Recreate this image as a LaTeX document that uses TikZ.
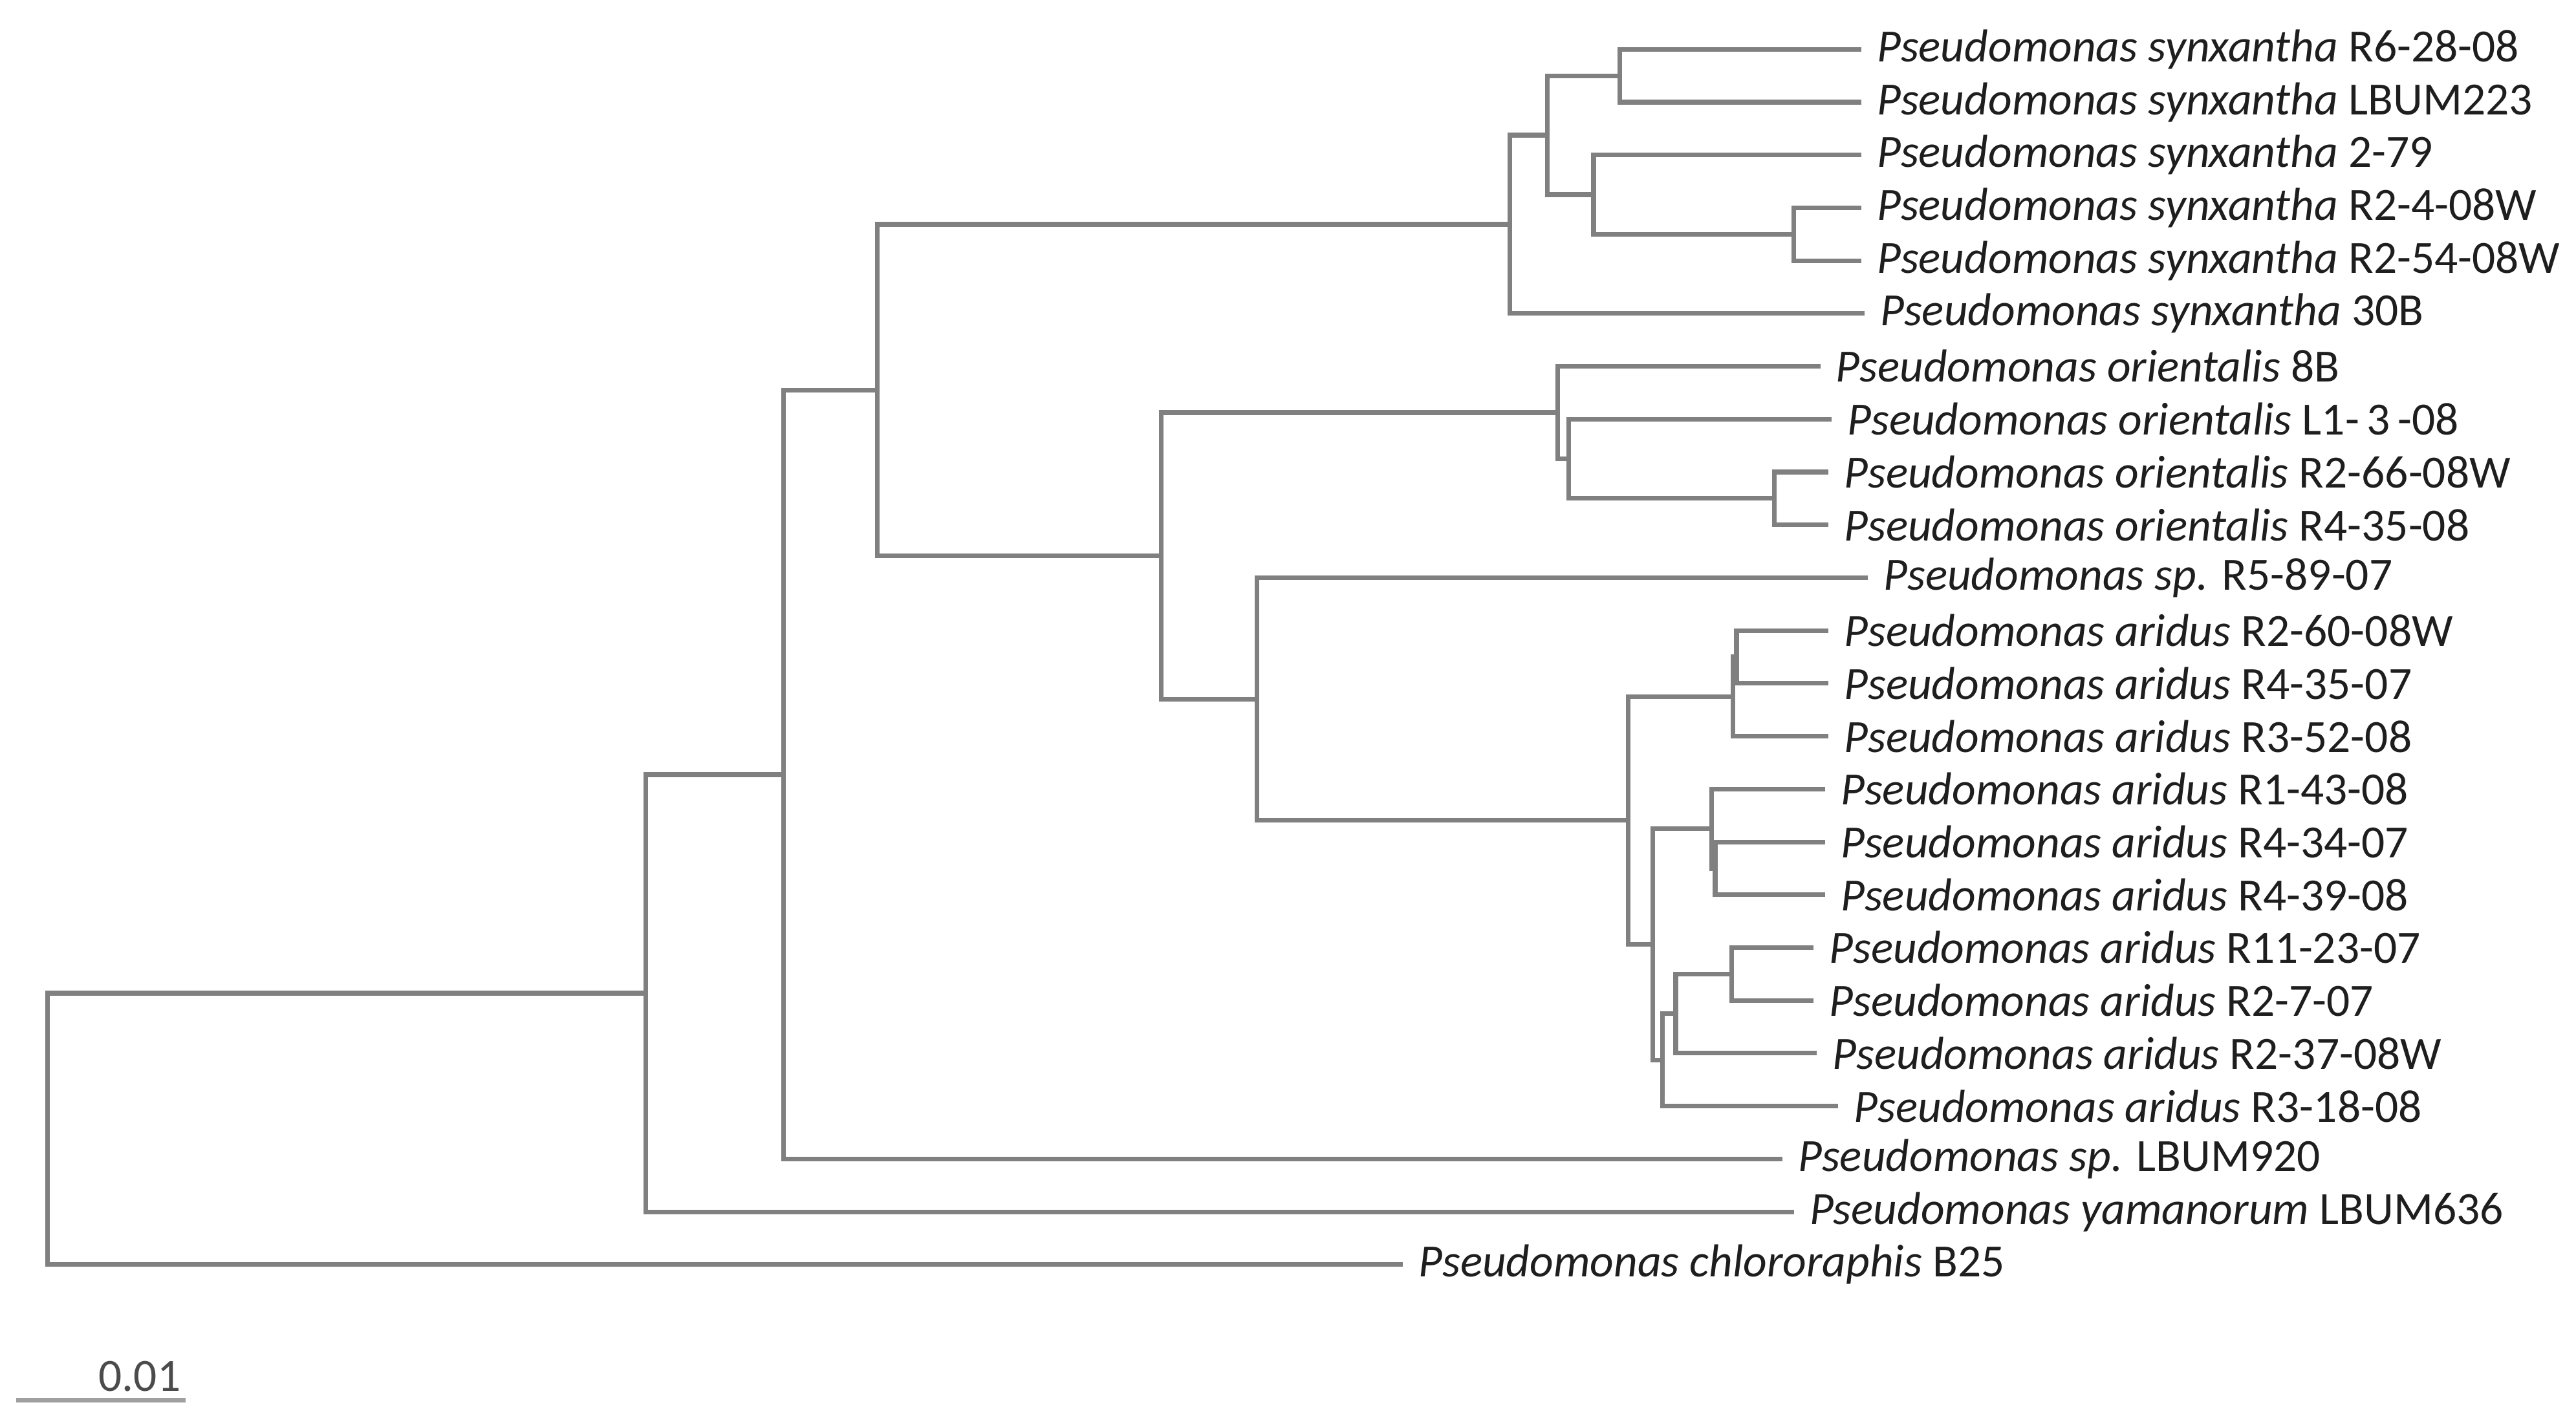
\documentclass[tikz,border=0pt]{standalone}
\usepackage{fontspec}
\setmainfont{Carlito}
\definecolor{treegray}{RGB}{128,128,128}
\definecolor{labelink}{RGB}{30,30,30}
\begin{document}
\begin{tikzpicture}[ x=0.1mm, y=-0.1mm,
	  branch/.style={ draw=treegray, line width=0.8pt },
	  leaf/.style={ anchor=west, inner sep=2.5pt, text=labelink, font=\fontsize{8}{9}\selectfont } ]
	  \useasboundingbox (0,0) rectangle (1568,863);

	  \node [ leaf ] (p1) at (1133,30) { \textit{Pseudomonas synxantha} R6-28-08 };
	  \node [ leaf ] (p2) at (1133,62.2) { \textit{Pseudomonas synxantha} LBUM223 };
	  \node [ leaf ] (p3) at (1133,94.3) { \textit{Pseudomonas synxantha} 2-79 };
	  \node [ leaf ] (p4) at (1133,126.5) { \textit{Pseudomonas synxantha} R2-4-08W };
	  \node [ leaf ] (p5) at (1133,158.7) { \textit{Pseudomonas synxantha} R2-54-08W };
	  \node [ leaf ] (p6) at (1135,190.9) { \textit{Pseudomonas synxantha} 30B };
	  \node [ leaf ] (p7) at (1108,223.0) { \textit{Pseudomonas orientalis} 8B };
	  \node [ leaf ] (p8) at (1115,255.2) { \textit{Pseudomonas orientalis} L1-\,3\,-08 };
	  \node [ leaf ] (p9) at (1113,287.4) { \textit{Pseudomonas orientalis} R2-66-08W };
	  \node [ leaf ] (p10) at (1113,319.5) { \textit{Pseudomonas orientalis} R4-35-08 };
	  \node [ leaf ] (p11) at (1137,351.7) { \textit{Pseudomonas sp.} R5-89-07 };
	  \node [ leaf ] (p12) at (1113,383.9) { \textit{Pseudomonas aridus} R2-60-08W };
	  \node [ leaf ] (p13) at (1113,416.0) { \textit{Pseudomonas aridus} R4-35-07 };
	  \node [ leaf ] (p14) at (1113,448.2) { \textit{Pseudomonas aridus} R3-52-08 };
	  \node [ leaf ] (p15) at (1111,480.4) { \textit{Pseudomonas aridus} R1-43-08 };
	  \node [ leaf ] (p16) at (1111,512.6) { \textit{Pseudomonas aridus} R4-34-07 };
	  \node [ leaf ] (p17) at (1111,544.7) { \textit{Pseudomonas aridus} R4-39-08 };
	  \node [ leaf ] (p18) at (1104,576.9) { \textit{Pseudomonas aridus} R11-23-07 };
	  \node [ leaf ] (p19) at (1104,609.1) { \textit{Pseudomonas aridus} R2-7-07 };
	  \node [ leaf ] (p20) at (1106,641.2) { \textit{Pseudomonas aridus} R2-37-08W };
	  \node [ leaf ] (p21) at (1119,673.4) { \textit{Pseudomonas aridus} R3-18-08 };
	  \node [ leaf ] (p22) at (1085,705.6) { \textit{Pseudomonas sp.} LBUM920 };
	  \node [ leaf ] (p23) at (1092,737.8) { \textit{Pseudomonas yamanorum} LBUM636 };
	  \node [ leaf ] (p24) at (854,769.9) { \textit{Pseudomonas chlororaphis} B25 };

	  \coordinate (synxA) at (986,46.1);
	  \coordinate (synxB) at (1092,142.6);
	  \coordinate (synxC) at (970,118.5);
	  \coordinate (synxD) at (942,82.3);
	  \coordinate (synx) at (919,136.6);
	  \coordinate (orientA) at (1080,303.5);
	  \coordinate (orientB) at (955,279.3);
	  \coordinate (orient) at (948,251.2);
	  \coordinate (aridA) at (1057,400.0);
	  \coordinate (aridB) at (1055,424.1);
	  \coordinate (aridC) at (1044,528.7);
	  \coordinate (aridD) at (1042,504.5);
	  \coordinate (aridE) at (1054,593.0);
	  \coordinate (aridF) at (1020,617.1);
	  \coordinate (aridG) at (1012,645.3);
	  \coordinate (aridH) at (1006,574.9);
	  \coordinate (arid) at (991,499.5);
	  \coordinate (spclade) at (765,425.6);
	  \coordinate (midclade) at (707,338.4);
	  \coordinate (upclade) at (534,237.5);
	  \coordinate (nodeB) at (477,471.6);
	  \coordinate (nodeA) at (393,604.7);
	  \coordinate (root) at (29,687.3);

	  \draw [ branch ] (p1.west) -| (synxA) |- (p2.west);
	  \draw [ branch ] (p4.west) -| (synxB) |- (p5.west);
	  \draw [ branch ] (p3.west) -| (synxC) |- (synxB);
	  \draw [ branch ] (synxA) -| (synxD) |- (synxC);
	  \draw [ branch ] (synxD) -| (synx) |- (p6.west);
	  \draw [ branch ] (p9.west) -| (orientA) |- (p10.west);
	  \draw [ branch ] (p8.west) -| (orientB) |- (orientA);
	  \draw [ branch ] (p7.west) -| (orient) |- (orientB);
	  \draw [ branch ] (p12.west) -| (aridA) |- (p13.west);
	  \draw [ branch ] (aridA) -| (aridB) |- (p14.west);
	  \draw [ branch ] (p16.west) -| (aridC) |- (p17.west);
	  \draw [ branch ] (p15.west) -| (aridD) |- (aridC);
	  \draw [ branch ] (p18.west) -| (aridE) |- (p19.west);
	  \draw [ branch ] (aridE) -| (aridF) |- (p20.west);
	  \draw [ branch ] (aridF) -| (aridG) |- (p21.west);
	  \draw [ branch ] (aridD) -| (aridH) |- (aridG);
	  \draw [ branch ] (aridB) -| (arid) |- (aridH);
	  \draw [ branch ] (p11.west) -| (spclade) |- (arid);
	  \draw [ branch ] (orient) -| (midclade) |- (spclade);
	  \draw [ branch ] (synx) -| (upclade) |- (midclade);
	  \draw [ branch ] (upclade) -| (nodeB) |- (p22.west);
	  \draw [ branch ] (nodeB) -| (nodeA) |- (p23.west);
	  \draw [ branch ] (nodeA) -| (root) |- (p24.west);

	  \coordinate (bar0) at (10,852.5);
	  \coordinate (bar1) at (113,852.5);
	  \draw [ branch, draw=treegray!75 ] (bar0) -- (bar1);
	  \node [ text=labelink!80, font=\fontsize{8}{9}\selectfont, anchor=base, inner sep=0pt ] (barlabel) at (85,847) {0.01};
	\end{tikzpicture}
\end{document}
